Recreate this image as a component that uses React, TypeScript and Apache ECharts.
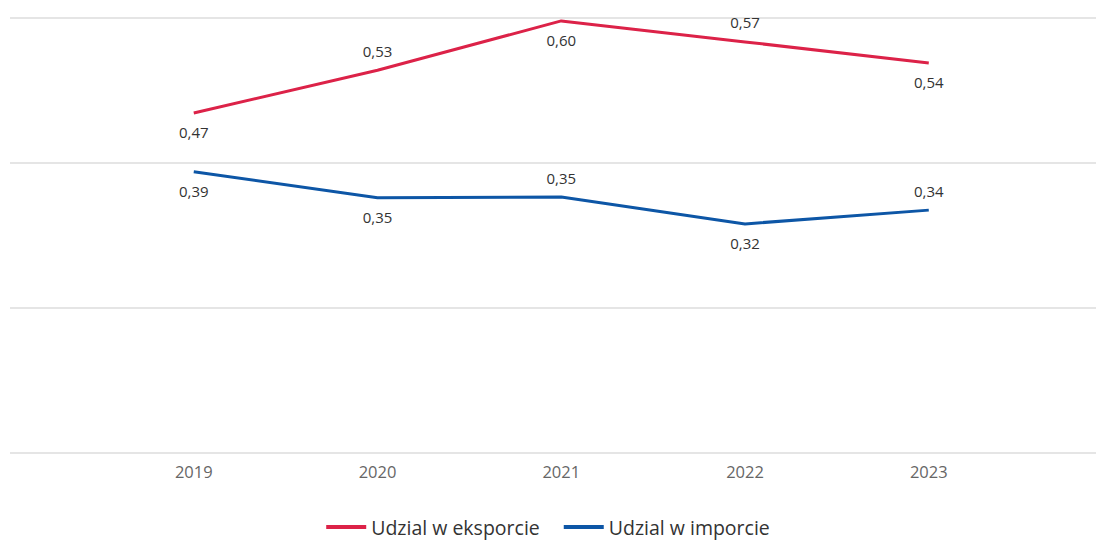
import React, { useEffect, useRef } from "react";
import * as echarts from "echarts";

const years = [2019, 2020, 2021, 2022, 2023];
const exportShare = [0.469, 0.528, 0.596, 0.567, 0.538];
const importShare = [0.388, 0.352, 0.353, 0.316, 0.335];
const exportLabelSide = ["bottom", "top", "bottom", "top", "bottom"];
const importLabelSide = ["bottom", "bottom", "top", "bottom", "top"];
const seriesNames = ["Udzial w eksporcie", "Udzial w imporcie"];
const yTicks = { min: 0, max: 0.6, interval: 0.2 };

const FONT = "'Open Sans', 'Noto Sans', sans-serif";

function buildData(values: number[], sides: string[]) {
  return values.map((v, i) => ({
    value: [years[i], v],
    label: { position: sides[i] },
  }));
}

export default function App() {
  const ref = useRef<HTMLDivElement>(null);
  useEffect(() => {
    if (!ref.current) return;
    const chart = echarts.init(ref.current, undefined, { renderer: "svg" });
    const labelCommon = {
      show: true,
      distance: 12,
      fontSize: 15,
      fontFamily: FONT,
      color: "#333",
      formatter: (p: any) => p.value[1].toFixed(2).replace(".", ","),
    };
    chart.setOption({
      animation: false,
      backgroundColor: "#fff",
      grid: { left: 10, right: 0, top: 18, bottom: 91, containLabel: false },
      xAxis: {
        type: "value",
        min: 2018,
        max: 2023.91,
        interval: 1,
        axisLine: { show: false },
        axisTick: { show: false },
        splitLine: { show: false },
        axisLabel: {
          showMinLabel: false,
          showMaxLabel: false,
          margin: 10,
          fontSize: 16.5,
          fontFamily: FONT,
          color: "#666",
          formatter: (v: number) => (years.includes(v) ? String(v) : ""),
        },
      },
      yAxis: {
        type: "value",
        min: yTicks.min,
        max: yTicks.max,
        interval: yTicks.interval,
        axisLine: { show: false },
        axisTick: { show: false },
        axisLabel: { show: false },
        splitLine: { lineStyle: { color: "#dcdcdc", width: 1.5 } },
      },
      legend: {
        left: "center",
        top: 515,
        padding: 0,
        icon: "rect",
        itemWidth: 40,
        itemHeight: 4,
        itemGap: 24,
        textStyle: { fontSize: 19.5, lineHeight: 24, fontFamily: FONT, color: "#333" },
        data: seriesNames,
      },
      series: [
        {
          name: seriesNames[0],
          type: "line",
          data: buildData(exportShare, exportLabelSide),
          color: "#dc2248",
          lineStyle: { width: 3, color: "#dc2248" },
          symbol: "circle",
          symbolSize: 0,
          showSymbol: true,
          label: labelCommon,
        },
        {
          name: seriesNames[1],
          type: "line",
          data: buildData(importShare, importLabelSide),
          color: "#0d56a6",
          lineStyle: { width: 3, color: "#0d56a6" },
          symbol: "circle",
          symbolSize: 0,
          showSymbol: true,
          label: labelCommon,
        },
      ],
    });
    return () => chart.dispose();
  }, []);
  return (
    <div
      ref={ref}
      style={{ position: "fixed", left: 0, top: 0, width: 1096, height: 544 }}
    />
  );
}
